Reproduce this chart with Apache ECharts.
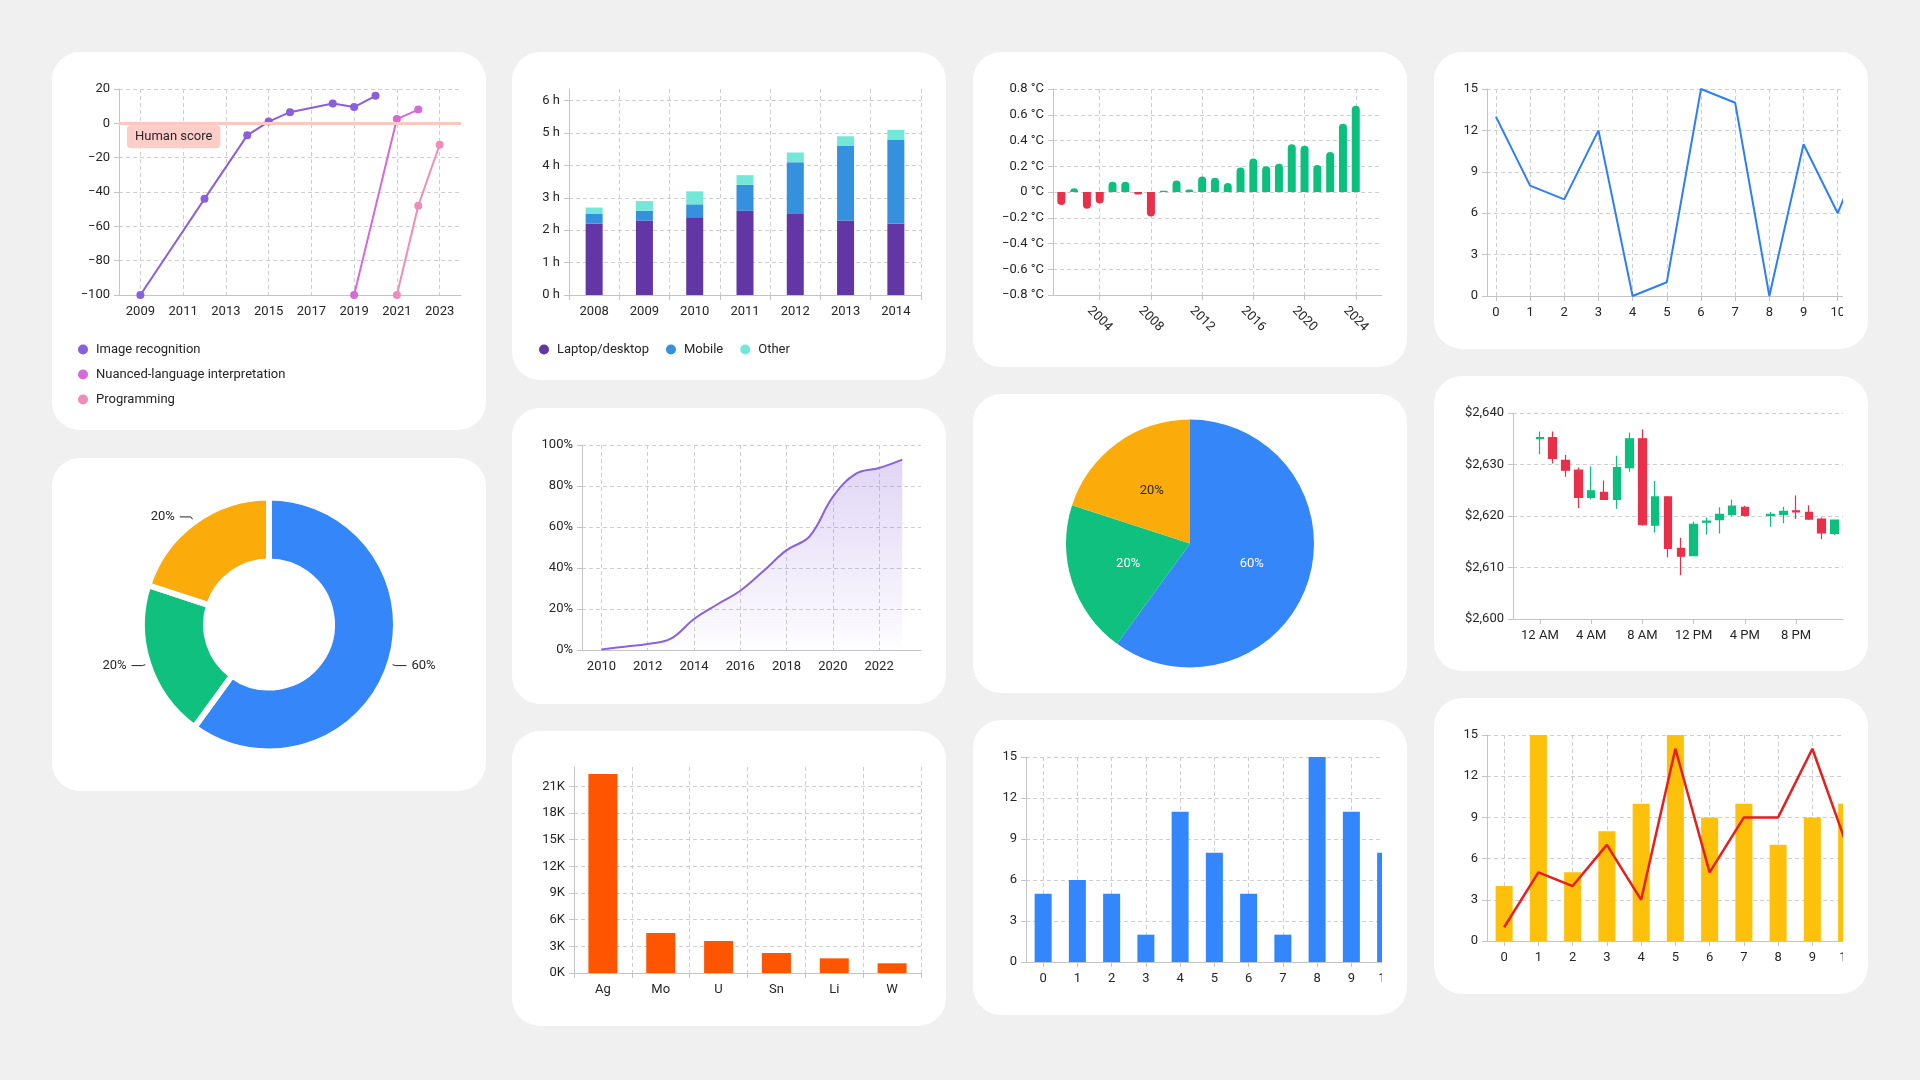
<!DOCTYPE html>
<html>
<head>
<meta charset="utf-8">
<script src="https://cdn.jsdelivr.net/npm/echarts@6/dist/echarts.min.js"></script>
<style>
  body { margin: 0; width: 1920px; height: 1080px; overflow: hidden; background: #f0f0f0; }
  .card { position: absolute; background: #fff; border-radius: 28px; overflow: hidden; }
  .clip { position: absolute; left: 0; top: 0; height: 100%; overflow: hidden; }
  .chart { position: absolute; left: 0; top: 0; height: 100%; }
</style>
</head>
<body>
<script>
// ---- data ----
const aiImage = [[2009, -100], [2012, -44], [2014, -7], [2015, 1], [2016, 6.5], [2018, 11.5], [2019, 9.5], [2020, 16]];
const aiLanguage = [[2019, -100], [2021, 2.5], [2022, 8]];
const aiProgramming = [[2021, -100], [2022, -48], [2023, -12.5]];
const aiYearTicks = [2009, 2011, 2013, 2015, 2017, 2019, 2021, 2023];

const usageYears = ['2008', '2009', '2010', '2011', '2012', '2013', '2014'];
const usageLaptop = [2.2, 2.3, 2.4, 2.6, 2.5, 2.3, 2.2];
const usageMobile = [0.3, 0.3, 0.4, 0.8, 1.6, 2.3, 2.6];
const usageOther = [0.2, 0.3, 0.4, 0.3, 0.3, 0.3, 0.3];
const usageTicks = [0, 1, 2, 3, 4, 5, 6];

const tempYears = [2001, 2002, 2003, 2004, 2005, 2006, 2007, 2008, 2009, 2010, 2011, 2012,
  2013, 2014, 2015, 2016, 2017, 2018, 2019, 2020, 2021, 2022, 2023, 2024];
const tempAnomaly = [-0.1, 0.03, -0.13, -0.09, 0.08, 0.08, -0.02, -0.19, 0.01, 0.09, 0.02, 0.12,
  0.11, 0.07, 0.19, 0.26, 0.2, 0.22, 0.37, 0.36, 0.21, 0.31, 0.53, 0.67];
const tempTicks = [2004, 2008, 2012, 2016, 2020, 2024];

const lineX = [0, 1, 2, 3, 4, 5, 6, 7, 8, 9, 10, 11];
const lineValues = [13, 8, 7, 12, 0, 1, 15, 14, 0, 11, 6, 12];

const shareValues = [60, 20, 20];
const shareNames = ['A', 'B', 'C'];

const adoptYears = [2010, 2011, 2012, 2013, 2014, 2015, 2016, 2017, 2018, 2019, 2020, 2021, 2022, 2023];
const adoptValues = [0.3, 1.6, 2.9, 5.5, 15.1, 22.2, 28.9, 38.5, 48.7, 55.5, 74.7, 86, 88.8, 92.9];
const adoptTicks = [2010, 2012, 2014, 2016, 2018, 2020, 2022];

const goldHours = [0, 1, 2, 3, 4, 5, 6, 7, 8, 9, 10, 11, 12, 13, 14, 15, 16, 18, 19, 20, 21, 22, 23];
const goldOpen  = [2635.0, 2635.2, 2630.8, 2628.9, 2623.6, 2624.6, 2623.2, 2629.4, 2635.0, 2618.2, 2623.7, 2613.7,
  2612.3, 2618.8, 2619.3, 2620.3, 2621.7, 2620.1, 2620.3, 2621.0, 2620.7, 2619.4, 2616.6];
const goldClose = [2635.2, 2631.2, 2628.9, 2623.6, 2624.9, 2623.2, 2629.4, 2635.0, 2618.3, 2623.7, 2613.7, 2612.2,
  2618.4, 2619.0, 2620.3, 2621.9, 2620.1, 2620.3, 2620.9, 2620.8, 2619.4, 2616.7, 2619.2];
const goldLow   = [2632.0, 2630.2, 2627.6, 2621.5, 2623.2, 2623.2, 2621.4, 2628.6, 2618.1, 2616.8, 2612.0, 2608.5,
  2612.3, 2616.4, 2616.6, 2619.9, 2619.9, 2617.9, 2618.6, 2619.4, 2619.2, 2615.5, 2616.3];
const goldHigh  = [2636.4, 2636.4, 2631.9, 2629.4, 2629.6, 2626.9, 2631.7, 2636.2, 2636.8, 2626.8, 2623.9, 2615.8,
  2618.9, 2619.7, 2621.7, 2623.2, 2622.0, 2620.8, 2621.8, 2624.0, 2622.1, 2619.7, 2619.3];
const goldTicks = [0, 4, 8, 12, 16, 20];

const minerals = ['Ag', 'Mo', 'U', 'Sn', 'Li', 'W'];
const mineralValues = [22400, 4500, 3600, 2250, 1650, 1090];
const mineralTicks = [0, 3000, 6000, 9000, 12000, 15000, 18000, 21000];

const barX = [0, 1, 2, 3, 4, 5, 6, 7, 8, 9, 10];
const blueBars = [5, 6, 5, 2, 11, 8, 5, 2, 15, 11, 8];
const yellowBars = [4, 15, 5, 8, 10, 15, 9, 10, 7, 9, 10];
const redLine = [1, 5, 4, 7, 3, 14, 5, 9, 9, 14, 7];

// ---- helpers ----
const TXT = '#262626';
const AXIS = '#c4c4c8';
const GRIDC = '#cfcfcf';
const FONT = 'Roboto';
const GREEN = '#0bc07f';
const RED = '#e8304b';

function card(x, y, w, h, clipW, chartW) {
  const c = document.createElement('div');
  c.className = 'card';
  Object.assign(c.style, { left: x + 'px', top: y + 'px', width: w + 'px', height: h + 'px' });
  document.body.appendChild(c);
  let parent = c;
  if (clipW) {
    const k = document.createElement('div');
    k.className = 'clip';
    k.style.width = clipW + 'px';
    c.appendChild(k);
    parent = k;
  }
  const d = document.createElement('div');
  d.className = 'chart';
  d.style.width = (chartW || w) + 'px';
  parent.appendChild(d);
  return echarts.init(d);
}

function axis(o) {
  const base = {
    axisLine: { show: true, onZero: false, lineStyle: { color: AXIS } },
    axisTick: { show: true, length: 5, lineStyle: { color: AXIS } },
    axisLabel: { fontFamily: FONT, fontSize: 13, color: TXT, margin: 9 },
    splitLine: { show: true, lineStyle: { color: GRIDC, type: [4, 3] } }
  };
  const r = Object.assign({}, base, o);
  ['axisLine', 'axisTick', 'axisLabel', 'splitLine'].forEach(k => {
    if (o[k]) r[k] = Object.assign({}, base[k], o[k]);
  });
  return r;
}

const minus = v => String(v).replace('-', '\u2212');
const zip = (xs, ys) => xs.map((x, i) => [x, ys[i]]);
const legendText = { fontFamily: FONT, fontSize: 13, color: TXT };

// ---- 1. AI benchmarks ----
card(52, 52, 434, 378).setOption({
  animation: false,
  grid: { left: 67, right: 25, top: 37, bottom: 135 },
  legend: {
    orient: 'vertical', left: 21, top: 286, icon: 'circle',
    itemWidth: 16, itemHeight: 10, itemGap: 12, textStyle: legendText
  },
  xAxis: axis({
    type: 'value', min: 2008, max: 2024,
    axisTick: { show: false, customValues: aiYearTicks },
    axisLabel: { customValues: aiYearTicks, margin: 10, formatter: v => String(v) }
  }),
  yAxis: axis({ type: 'value', min: -100, max: 20, interval: 20, axisLabel: { formatter: minus } }),
  series: [
    {
      name: 'Image recognition', type: 'line', data: aiImage, color: '#8a5fdc',
      symbol: 'circle', symbolSize: 8, lineStyle: { width: 2 },
      markLine: {
        silent: true, symbol: 'none',
        data: [{ yAxis: 0 }],
        lineStyle: { color: '#fcc6c1', width: 3, type: 'solid' },
        label: {
          position: 'insideStartBottom', formatter: 'Human score',
          backgroundColor: '#fdcdc8', borderRadius: 4, padding: [5, 8],
          color: TXT, fontFamily: FONT, fontSize: 13, distance: [8, 2]
        }
      }
    },
    {
      name: 'Nuanced-language interpretation', type: 'line', data: aiLanguage, color: '#d46ad8',
      symbol: 'circle', symbolSize: 8, lineStyle: { width: 2 }
    },
    {
      name: 'Programming', type: 'line', data: aiProgramming, color: '#f08cb8',
      symbol: 'circle', symbolSize: 8, lineStyle: { width: 2 }
    }
  ]
});

// ---- 2. Screen time stacked bars ----
card(512, 52, 434, 328).setOption({
  animation: false,
  grid: { left: 57, right: 25, top: 37, bottom: 85 },
  legend: {
    left: 22, top: 286, icon: 'circle', itemWidth: 16, itemHeight: 10, itemGap: 17,
    textStyle: legendText
  },
  xAxis: axis({
    type: 'category', data: usageYears,
    axisTick: { interval: 0 }, axisLabel: { interval: 0, margin: 10 },
    splitLine: { interval: 0 }
  }),
  yAxis: axis({
    type: 'value', min: 0, max: 6.36,
    axisTick: { customValues: usageTicks },
    axisLabel: { customValues: usageTicks, formatter: v => v + ' h' }
  }),
  series: [
    { name: 'Laptop/desktop', type: 'bar', stack: 't', barWidth: 17, data: usageLaptop, color: '#6236a4' },
    { name: 'Mobile', type: 'bar', stack: 't', barWidth: 17, data: usageMobile, color: '#3590de' },
    { name: 'Other', type: 'bar', stack: 't', barWidth: 17, data: usageOther, color: '#74e8d8' }
  ]
});

// ---- 3. Temperature anomaly ----
card(973, 52, 434, 315).setOption({
  animation: false,
  grid: { left: 80, right: 25, top: 37, bottom: 72 },
  xAxis: axis({
    type: 'value', min: 2000.35, max: 2026.05,
    axisTick: { customValues: tempTicks },
    axisLabel: {
      customValues: tempTicks, rotate: -45, align: 'center', verticalAlign: 'middle',
      margin: 24, formatter: v => String(v)
    }
  }),
  yAxis: axis({
    type: 'value', min: -0.8, max: 0.8, interval: 0.2,
    axisLabel: { formatter: v => (Math.abs(v) < 1e-9 ? '0' : minus(v.toFixed(1))) + ' \u00b0C' }
  }),
  series: [{
    type: 'bar', barWidth: 8,
    data: tempYears.map((y, i) => {
      const v = tempAnomaly[i];
      return {
        value: [y, v],
        itemStyle: { color: v >= 0 ? GREEN : RED, borderRadius: v >= 0 ? [4, 4, 0, 0] : [0, 0, 4, 4] }
      };
    })
  }]
});

// ---- 4. Blue line ----
card(1434, 52, 434, 297, 409, 480).setOption({
  animation: false,
  grid: { left: 53, right: 25, top: 37, bottom: 53 },
  xAxis: axis({
    type: 'value', min: -0.26, max: 11.5,
    axisTick: { customValues: lineX },
    axisLabel: { customValues: lineX, margin: 10 }
  }),
  yAxis: axis({ type: 'value', min: 0, max: 15, interval: 3 }),
  series: [{
    type: 'line', data: zip(lineX, lineValues), color: '#2e7ef6',
    symbol: 'none', lineStyle: { width: 2 }
  }]
});

// ---- 5. Donut ----
card(52, 458, 434, 333).setOption({
  animation: false,
  series: [{
    type: 'pie', radius: [63, 127], center: ['50%', '50%'],
    itemStyle: { borderColor: '#fff', borderWidth: 6 },
    label: { formatter: p => p.value + '%', fontFamily: FONT, fontSize: 13, color: TXT },
    labelLine: { length: 6, length2: 11, lineStyle: { color: TXT, width: 1 } },
    data: shareValues.map((v, i) => ({
      value: v, name: shareNames[i],
      itemStyle: { color: ['#3486f9', '#10c07f', '#fbab0a'][i] }
    }))
  }]
});

// ---- 6. Adoption area ----
card(512, 408, 434, 296).setOption({
  animation: false,
  grid: { left: 70, right: 25, top: 37, bottom: 54 },
  xAxis: axis({
    type: 'value', min: 2009.16, max: 2023.81,
    axisTick: { show: false, customValues: adoptTicks },
    axisLabel: { customValues: adoptTicks, margin: 10, formatter: v => String(v) }
  }),
  yAxis: axis({ type: 'value', min: 0, max: 100, interval: 20, axisLabel: { formatter: v => v + '%' } }),
  series: [{
    type: 'line', data: zip(adoptYears, adoptValues), smooth: 0.4, symbol: 'none',
    color: '#8b62dc', lineStyle: { width: 2 },
    areaStyle: {
      color: new echarts.graphic.LinearGradient(0, 0, 0, 1, [
        { offset: 0, color: 'rgba(139,98,220,0.38)' },
        { offset: 1, color: 'rgba(139,98,220,0.02)' }
      ])
    }
  }]
});

// ---- 7. Pie ----
card(973, 394, 434, 299).setOption({
  animation: false,
  series: [{
    type: 'pie', radius: 124, center: ['50%', '50%'],
    label: { position: 'inner', formatter: p => p.value + '%', fontFamily: FONT, fontSize: 13 },
    data: shareValues.map((v, i) => ({
      value: v, name: shareNames[i],
      itemStyle: { color: ['#3486f9', '#10c07f', '#fbab0a'][i] },
      label: { color: ['#fff', '#fff', TXT][i] }
    }))
  }]
});

// ---- 8. Candlestick ----
card(1434, 376, 434, 295).setOption({
  animation: false,
  grid: { left: 79, right: 25, top: 37, bottom: 52 },
  xAxis: axis({
    type: 'value', min: -2.1, max: 23.66,
    axisTick: { customValues: goldTicks },
    axisLabel: {
      customValues: goldTicks, margin: 10,
      formatter: h => (h % 12 === 0 ? 12 : h % 12) + (h < 12 ? ' AM' : ' PM')
    },
    splitLine: { show: false }
  }),
  yAxis: axis({
    type: 'value', min: 2600, max: 2640, interval: 10,
    axisLabel: { formatter: v => '$' + v.toLocaleString('en-US') }
  }),
  series: [{
    type: 'candlestick', barWidth: 8,
    encode: { x: 0, y: [1, 2, 3, 4] },
    itemStyle: { color: GREEN, color0: RED, borderColor: GREEN, borderColor0: RED, borderWidth: 1.2 },
    data: goldHours.map((h, i) => [h, goldOpen[i], goldClose[i], goldLow[i], goldHigh[i]])
  }]
});

// ---- 9. Minerals ----
card(512, 731, 434, 295).setOption({
  animation: false,
  grid: { left: 62, right: 25, top: 36, bottom: 53 },
  xAxis: axis({
    type: 'category', data: minerals,
    axisTick: { interval: 0 }, axisLabel: { interval: 0, margin: 10 },
    splitLine: { interval: 0 }
  }),
  yAxis: axis({
    type: 'value', min: 0, max: 23180,
    axisTick: { customValues: mineralTicks },
    axisLabel: { customValues: mineralTicks, formatter: v => (v / 1000) + 'K' }
  }),
  series: [{ type: 'bar', data: mineralValues, barWidth: 29, color: '#ff5500' }]
});

// ---- 10. Blue bars ----
card(973, 720, 434, 295, 409, 490).setOption({
  animation: false,
  grid: { left: 53, right: 26, top: 37, bottom: 53 },
  xAxis: axis({
    type: 'value', min: -0.5, max: 11.5,
    axisTick: { customValues: barX },
    axisLabel: { customValues: barX, margin: 10 }
  }),
  yAxis: axis({ type: 'value', min: 0, max: 15, interval: 3 }),
  series: [{ type: 'bar', barWidth: 17, data: zip(barX, blueBars), color: '#3486fc' }]
});

// ---- 11. Yellow bars + red line ----
card(1434, 698, 434, 296, 409, 490).setOption({
  animation: false,
  grid: { left: 53, right: 26, top: 37, bottom: 53 },
  xAxis: axis({
    type: 'value', min: -0.5, max: 11.5,
    axisTick: { customValues: barX },
    axisLabel: { customValues: barX, margin: 10 }
  }),
  yAxis: axis({ type: 'value', min: 0, max: 15, interval: 3 }),
  series: [
    { type: 'bar', barWidth: 17, data: zip(barX, yellowBars), color: '#fdc00b' },
    { type: 'line', data: zip(barX, redLine), color: '#e81e1e', symbol: 'none', lineStyle: { width: 2.5 } }
  ]
});
</script>
</body>
</html>
